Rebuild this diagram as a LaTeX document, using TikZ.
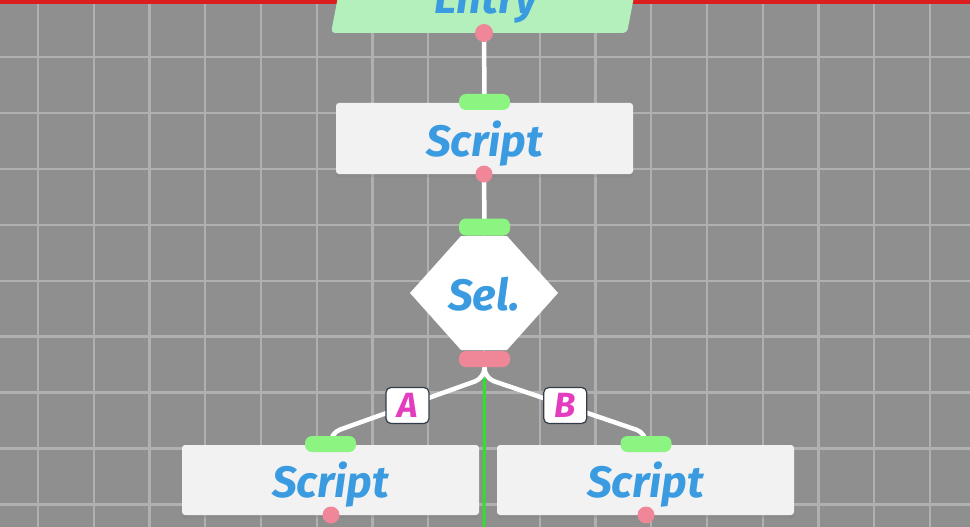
\documentclass[tikz,border=0pt]{standalone}
\usepackage{fontspec}
\setmainfont{Fira Sans}
\usetikzlibrary{positioning,calc,shadows}
\pgfdeclarelayer{grid}
\pgfdeclarelayer{background}
\pgfsetlayers{grid,background,main}
\definecolor{canvasgray}{RGB}{143,143,143}
\definecolor{gridline}{RGB}{176,176,176}
\definecolor{titleblue}{RGB}{58,155,225}
\definecolor{padgreen}{RGB}{140,245,130}
\definecolor{padpink}{RGB}{240,135,152}
\definecolor{entrygreen}{RGB}{180,240,188}
\definecolor{boxwhite}{RGB}{242,242,242}
\definecolor{labmagenta}{RGB}{228,60,190}
\definecolor{edgered}{RGB}{220,30,30}
\definecolor{flowgreen}{RGB}{45,225,45}
\definecolor{labborder}{RGB}{50,60,70}

\begin{document}
\begin{tikzpicture}[x=1pt,y=-1pt,
						titletext/.style={text=titleblue, font=\fontsize{44}{44}\selectfont\bfseries\itshape, text height=35pt, text depth=0pt},
						scriptbox/.style={rectangle, rounded corners=3pt, fill=boxwhite, minimum width=297pt, minimum height=71pt, inner sep=0pt, titletext, drop shadow={shadow xshift=0pt, shadow yshift=-3pt, opacity=.3}},
						inpad/.style={rectangle, rounded corners=7pt, fill=padgreen, minimum width=51pt, minimum height=16pt, inner sep=0pt},
						outpad/.style={inpad, fill=padpink},
						outdot/.style={circle, fill=padpink, minimum size=17pt, inner sep=0pt},
						labelbox/.style={rectangle, rounded corners=5pt, draw=labborder, line width=1.2pt, fill=white, minimum width=43pt, minimum height=36pt, inner sep=0pt, text=labmagenta, font=\fontsize{35}{35}\selectfont\bfseries\itshape},
						wire/.style={draw=white, line width=4.5pt},
						]
						\clip (0,0) rectangle (970,527);
						\useasboundingbox (0,0) rectangle (970,527);
						\begin{pgfonlayer}{grid}
						\fill[canvasgray] (0,0) rectangle (970,527);
						\foreach \gx in {0,...,16}
							\draw[gridline, line width=2.4pt] ({38+55.75*\gx},0) -- ++(0,527);
						\foreach \gy in {0,...,9}
							\draw[gridline, line width=2.4pt] (0,{1.2+55.9*\gy}) -- ++(970,0);
						\draw[edgered, line width=4pt] (0,2) -- (970,2);
						\end{pgfonlayer}

						%Entry
						\fill[entrygreen, rounded corners=4pt] (331,33) -- (627,33) -- (643,-50) -- (347,-50) -- cycle;
						\node[anchor=base, titletext, text height=, inner sep=0pt] (entry) at (486,14) {Entry};
						\node[outdot, minimum size=18pt] (entryout) at (484,33) {};

						%Nodes
						\node[scriptbox] (s1) at (484.5,138.5) {Script};
						\node[inpad] (s1in) at (484.5,102) {};
						\node[outdot] (s1out) at (484,174) {};

						\node[rectangle, minimum width=148pt, minimum height=114pt, inner sep=0pt, titletext,
							path picture={\fill[white] (path picture bounding box.west) -- ($(path picture bounding box.north)+(-23,0)$) -- ($(path picture bounding box.north)+(23,0)$) -- (path picture bounding box.east) -- ($(path picture bounding box.south)+(23,0)$) -- ($(path picture bounding box.south)+(-23,0)$) -- cycle;}]
							(sel) at (484,293) {Sel.};
						\node[inpad, minimum height=17pt] (selin) at (484.5,227) {};
						\node[outpad] (selout) at (484.5,359) {};

						\node[scriptbox, minimum height=70pt] (s2) at (330.5,480) {Script};
						\node[inpad] (s2in) at (330.5,444) {};
						\node[outdot] (s2out) at (331,515) {};

						\node[scriptbox, minimum height=70pt] (s3) at (645.5,480) {Script};
						\node[inpad] (s3in) at (646,444) {};
						\node[outdot] (s3out) at (646,515) {};

						\coordinate (fork) at ($(selout.center)+(0,19)$);
						\coordinate (bottom) at (484,530);

						\begin{pgfonlayer}{background}
						%Lines
						\draw[wire] (entryout.center) -- (s1in.center);
						\draw[wire] (s1out.center) -- (selin.center);
						\draw[wire, rounded corners=10pt] (selout.center) -- (fork) -- node[labelbox] (labA) {A} ($(s2in.center)+(0,-11)$) -- (s2in.center);
						\draw[wire, rounded corners=10pt] (selout.center) -- (fork) -- node[labelbox] (labB) {B} ($(s3in.center)+(0,-11)$) -- (s3in.center);
						\end{pgfonlayer}
						\draw[flowgreen, line width=3pt] (fork) -- (bottom);
					\end{tikzpicture}
\end{document}
